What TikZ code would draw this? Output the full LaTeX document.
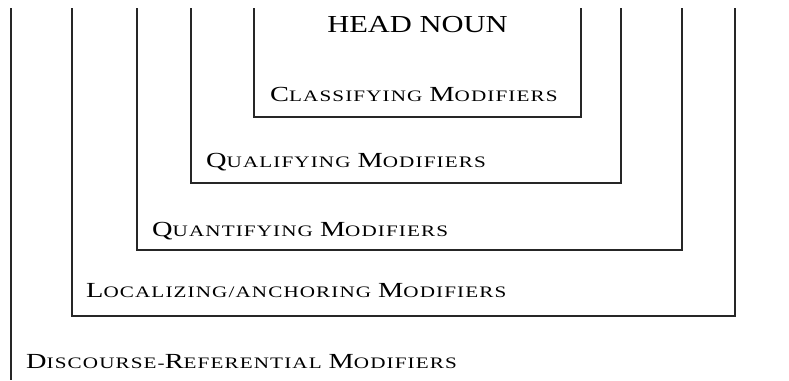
\documentclass[tikz,border=0pt]{standalone}
\usepackage{fontspec}
\setmainfont{Liberation Serif}[FakeStretch=1.25]
\newfontfamily\scfam{Liberation Serif}[FakeStretch=1.32,LetterSpace=7]
\usetikzlibrary{positioning}
\newcommand{\scw}[2]{{\scfam\fontsize{21.5}{22}\selectfont #1}{\scfam\fontsize{16}{17}\selectfont #2}}
\newcommand{\scsp}{\hspace{7pt}}
\tikzset{
    x=1pt, y=-1pt,
    frame/.style = {draw=black!85, line width=1.4pt},
    lab/.style = {anchor=base west, inner sep=0pt},
    head/.style = {anchor=base, inner sep=0pt, font=\fontsize{24.4}{25}\selectfont}
}

\begin{document}
\begin{tikzpicture}
    \useasboundingbox (0,0) rectangle (789,380);

    % Brackets, innermost last
    \draw[frame] (11,8) -- (11,380);
    \foreach \l/\r/\b in {72/735/316, 137/682/250, 191/621/183, 254/581/117}
        \draw[frame] (\l,8) -- (\l,\b) -- (\r,\b) -- (\r,8);

    % Labels
    \node[head] (head) at (417.5,32) {HEAD NOUN};
    \node[lab] (cls) at (270,101) {\scw{C}{LASSIFYING}\scsp\scw{M}{ODIFIERS}};
    \node[lab] (qual) at (206,167) {\scw{Q}{UALIFYING}\scsp\scw{M}{ODIFIERS}};
    \node[lab] (quan) at (152,236) {\scw{Q}{UANTIFYING}\scsp\scw{M}{ODIFIERS}};
    \node[lab] (loc) at (86,297) {\scw{L}{OCALIZING/ANCHORING}\scsp\scw{M}{ODIFIERS}};
    \node[lab] (disc) at (26,368) {\scw{D}{ISCOURSE-}\scw{R}{EFERENTIAL}\scsp\scw{M}{ODIFIERS}};
\end{tikzpicture}
\end{document}
